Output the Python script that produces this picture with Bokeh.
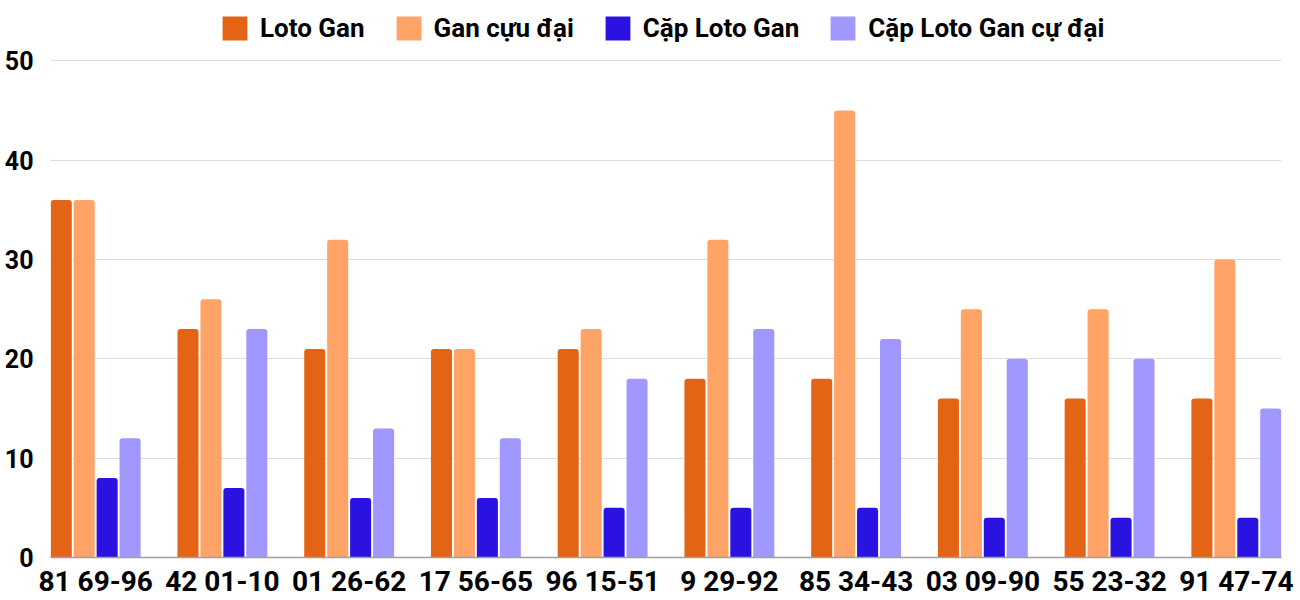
from bokeh.plotting import figure
from bokeh.models import ColumnDataSource, Legend, LegendItem, FixedTicker, Range1d
from bokeh.embed import file_html
from bokeh.resources import INLINE

categories = ["81 69-96", "42 01-10", "01 26-62", "17 56-65", "96 15-51",
              "9 29-92", "85 34-43", "03 09-90", "55 23-32", "91 47-74"]
loto_gan = [36, 23, 21, 21, 21, 18, 18, 16, 16, 16]
gan_cuc_dai = [36, 26, 32, 21, 23, 32, 45, 25, 25, 30]
cap_loto_gan = [8, 7, 6, 6, 5, 5, 5, 4, 4, 4]
cap_loto_gan_cuc_dai = [12, 23, 13, 12, 18, 23, 22, 20, 20, 15]
y_ticks = [0, 10, 20, 30, 40, 50]

series_names = ["Loto Gan", "Gan cựu đại", "Cặp Loto Gan", "Cặp Loto Gan cự đại"]
series_values = [loto_gan, gan_cuc_dai, cap_loto_gan, cap_loto_gan_cuc_dai]
colors = ["#E36414", "#FFA366", "#2A12E0", "#A097FF"]

FONT = "Roboto"
step = 0.181
bw = 0.166

p = figure(width=1300, height=600, output_backend="svg", toolbar_location=None,
           x_range=Range1d(-2 * step + (step - bw) / 2 - 0.002, len(categories) - 1 + 2 * step - (step - bw) / 2 + 0.002),
           y_range=Range1d(0, 56.08))
p.min_border_left = 50
p.min_border_right = 19
p.min_border_bottom = 42
p.min_border_top = 0
p.outline_line_color = None
p.background_fill_color = "white"
p.border_fill_color = "white"

items = []
for k, (name, vals, col) in enumerate(zip(series_names, series_values, colors)):
    off = (k - 1.5) * step
    src = ColumnDataSource(dict(x=[i + off for i in range(len(categories))], top=vals))
    r = p.vbar(x="x", top="top", bottom=0, width=bw, source=src, fill_color=col,
               line_color=None, border_radius=(3, 3, 0, 0))
    items.append(LegendItem(label=name, renderers=[r]))

p.xaxis.ticker = FixedTicker(ticks=list(range(len(categories))))
p.xaxis.major_label_overrides = {i: c for i, c in enumerate(categories)}
p.xaxis.major_label_text_font = FONT
p.xaxis.major_label_text_font_style = "bold"
p.xaxis.major_label_text_font_size = "28px"
p.xaxis.major_label_text_color = "#000000"
p.xaxis.major_tick_line_color = None
p.xaxis.major_tick_out = 0
p.xaxis.major_tick_in = 0
p.xaxis.minor_tick_line_color = None
p.xaxis.axis_line_color = "#9e9e9e"
p.xaxis.axis_line_width = 1.5
p.xaxis.major_label_standoff = 7

p.yaxis.ticker = FixedTicker(ticks=y_ticks)
p.yaxis.major_label_text_font = FONT
p.yaxis.major_label_text_font_style = "bold"
p.yaxis.major_label_text_font_size = "25px"
p.yaxis.major_label_text_color = "#000000"
p.yaxis.major_tick_line_color = None
p.yaxis.major_tick_out = 0
p.yaxis.major_tick_in = 0
p.yaxis.minor_tick_line_color = None
p.yaxis.axis_line_color = None
p.yaxis.major_label_standoff = 17

p.xgrid.grid_line_color = None
p.ygrid.grid_line_color = "#dedede"
p.ygrid.grid_line_width = 1

legend = Legend(items=items, orientation="horizontal", location=(169, 514),
                label_text_font=FONT, label_text_font_style="bold",
                label_text_font_size="26px", label_text_color="#000000",
                glyph_width=31, glyph_height=30, label_standoff=10, spacing=28,
                border_line_color=None, background_fill_alpha=0,
                padding=0, margin=0)
p.add_layout(legend, "center")

open("out.html", "w").write(file_html(p, INLINE))
